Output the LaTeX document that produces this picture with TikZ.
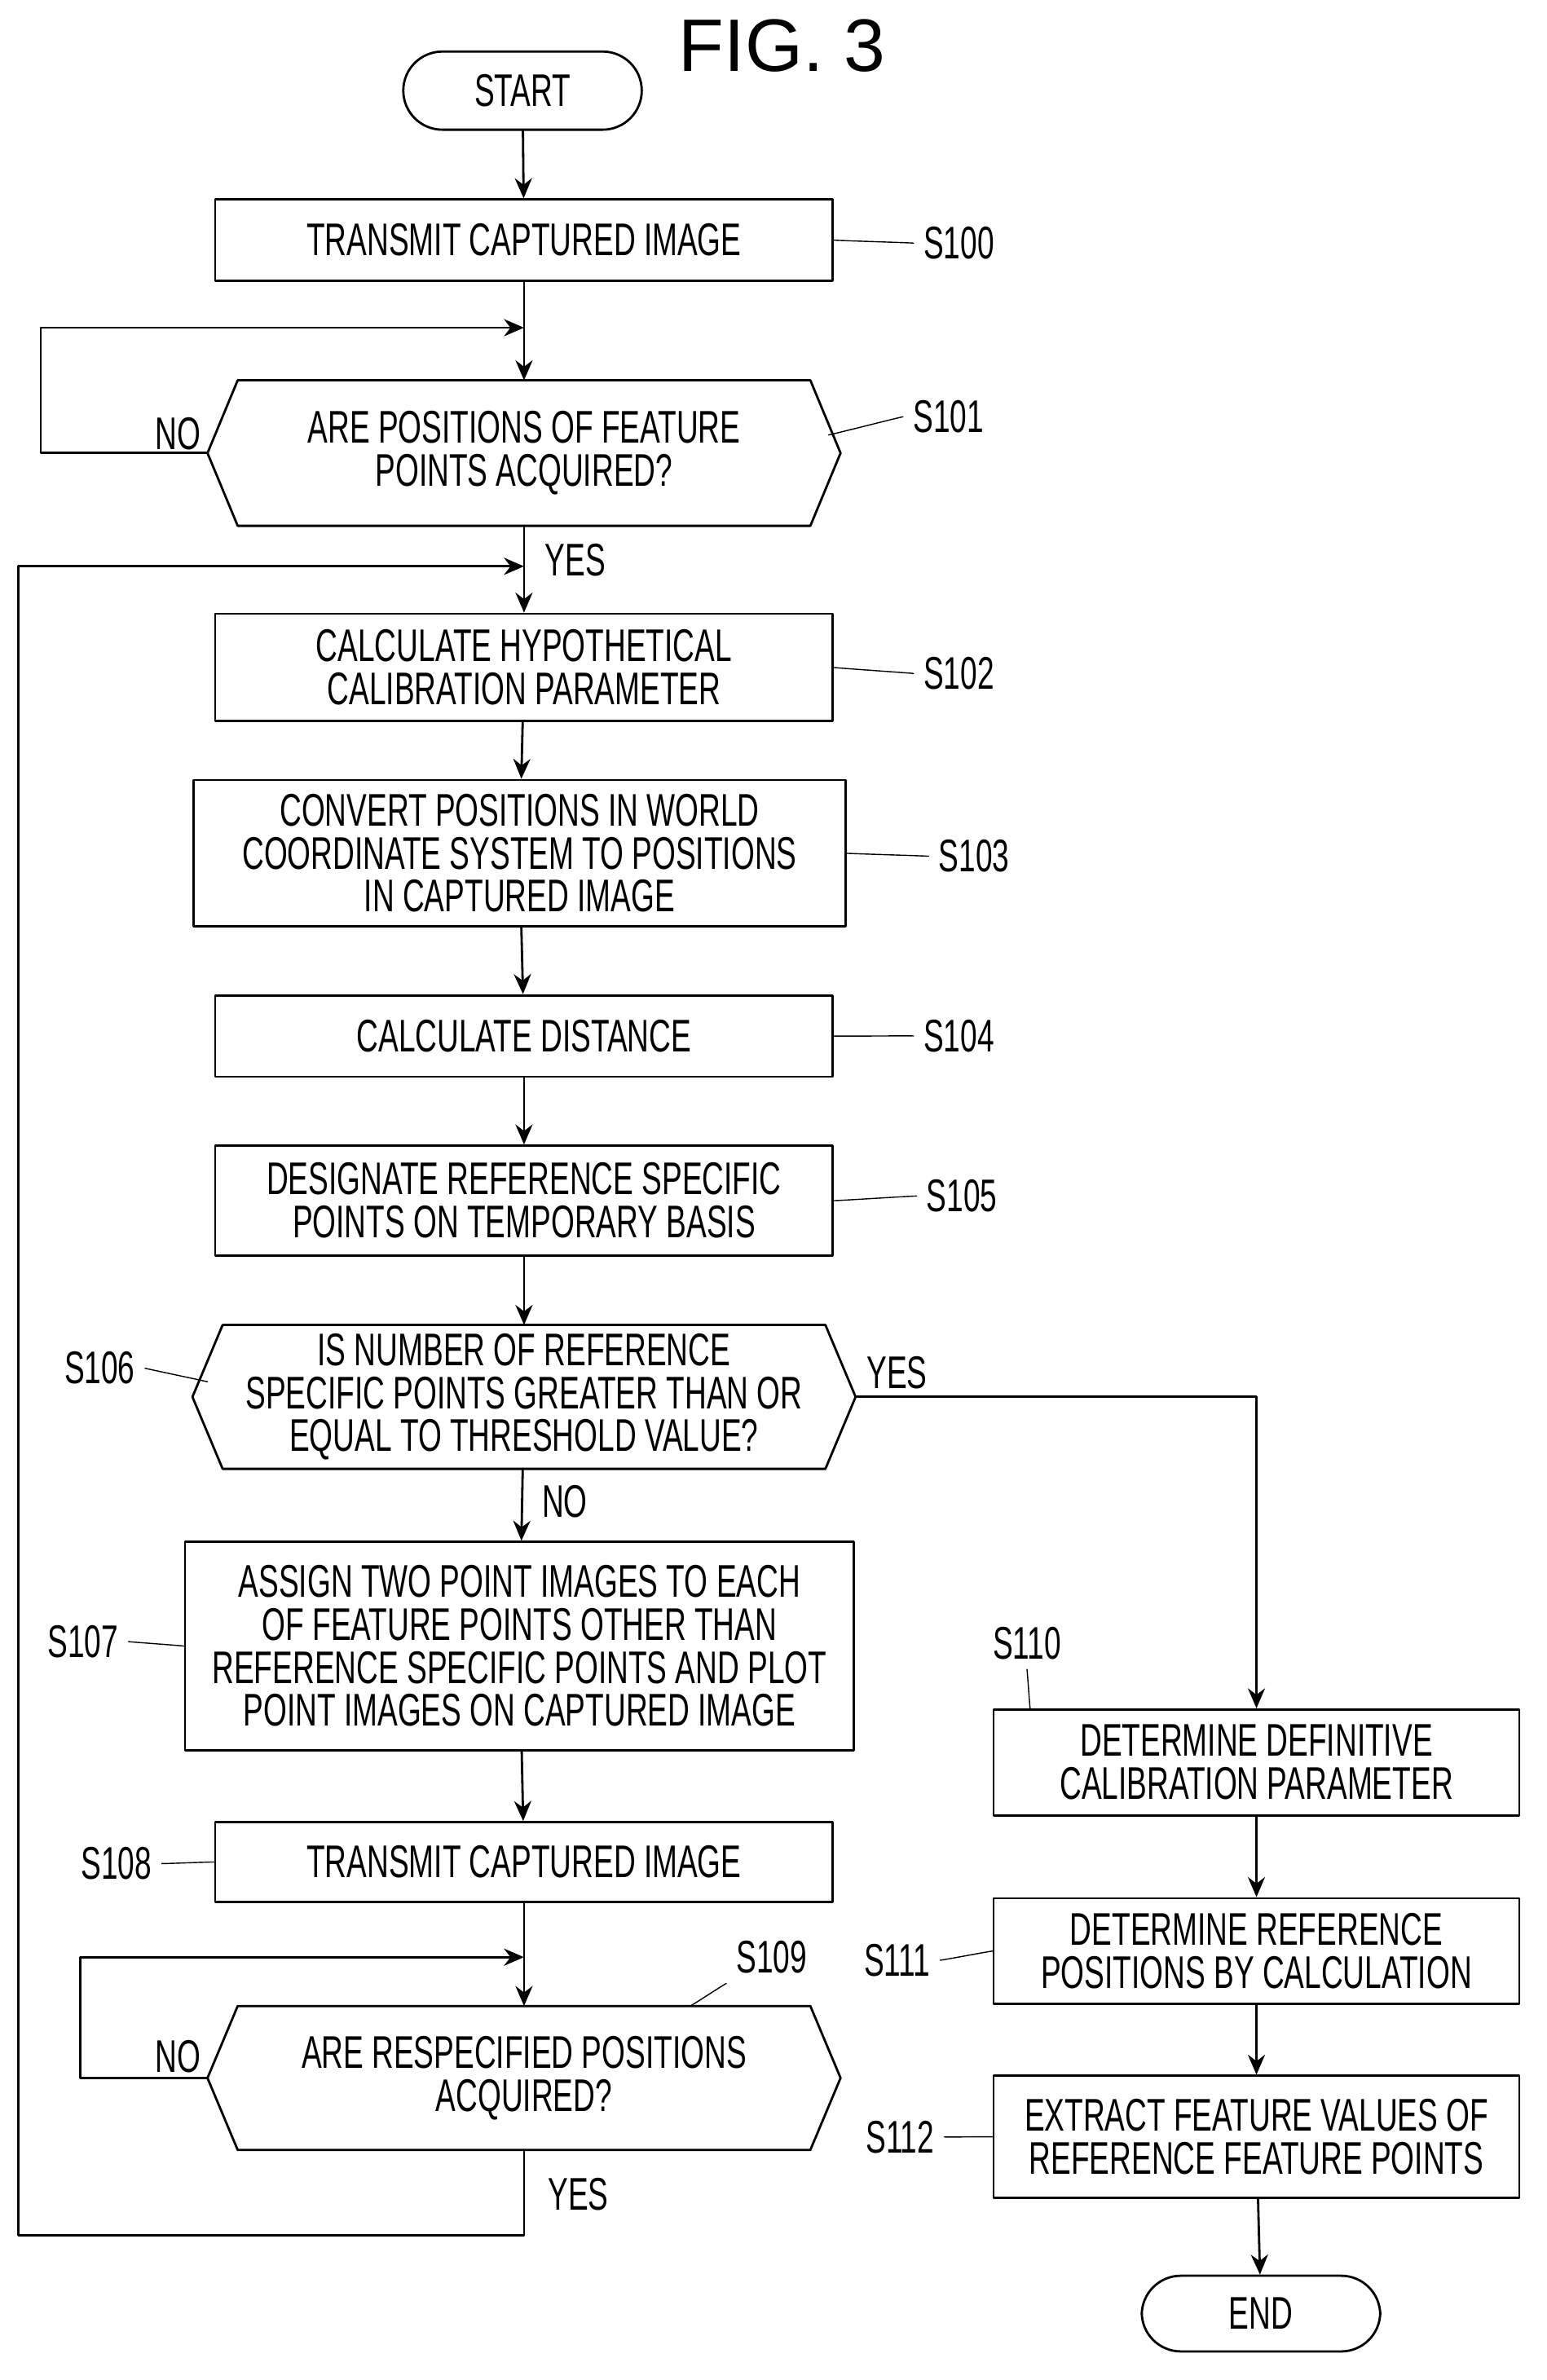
\documentclass[tikz,border=0pt]{standalone}
\usepackage{fontspec}
\setmainfont[FakeStretch=0.66]{Liberation Sans}
\newfontfamily\figfont{Liberation Sans}
\usetikzlibrary{arrows.meta,calc}
\tikzset{
  box/.style={draw, thick, align=center, inner sep=2pt, font=\fontsize{16}{15}\selectfont},
  hexa/.style={box, draw=none},
  term/.style={draw, thick, rounded corners=0.48cm, font=\fontsize{16}{15}\selectfont},
  lbl/.style={font=\fontsize{16}{15}\selectfont},
  flow/.style={thick, -{Stealth[length=7pt,width=6pt]}},
}
% squiggle from a node edge to a label
\newcommand{\squig}[2]{\draw[thin] (#1) .. controls +(0.3,0.25) and +(-0.3,-0.25) .. (#2);}
% hexagon outline round a decision node
\newcommand{\hexout}[1]{\draw[thick] ($(#1.north west)+(20,0)$) -- ($(#1.north east)+(-20,0)$) -- (#1.east)
  -- ($(#1.south east)+(-20,0)$) -- ($(#1.south west)+(20,0)$) -- (#1.west) -- cycle;}
\begin{document}
\begin{tikzpicture}[line cap=round, line join=round, x=0.01855cm, y=-0.01855cm]
\useasboundingbox (0,0) rectangle (1024,1576);

\node[font=\figfont\fontsize{26}{26}\selectfont] at (518,30) {FIG. 3};
\node[term, minimum width=2.93cm, minimum height=0.96cm] (start) at (346,60) {START};
\node[box, minimum width=7.59cm, minimum height=1.0cm] (s100) at (347,159) {TRANSMIT CAPTURED IMAGE};
\node[hexa, minimum width=7.75cm, minimum height=1.76cm] (s101) at (347,300) {ARE POSITIONS OF FEATURE\\POINTS ACQUIRED?};
\node[box, minimum width=7.59cm, minimum height=1.32cm] (s102) at (347,442) {CALCULATE HYPOTHETICAL\\CALIBRATION PARAMETER};
\node[box, minimum width=8.01cm, minimum height=1.80cm] (s103) at (344,565) {CONVERT POSITIONS IN WORLD\\COORDINATE SYSTEM TO POSITIONS\\IN CAPTURED IMAGE};
\node[box, minimum width=7.59cm, minimum height=1.0cm] (s104) at (347,686) {CALCULATE DISTANCE};
\node[box, minimum width=7.59cm, minimum height=1.35cm] (s105) at (347,795) {DESIGNATE REFERENCE SPECIFIC\\POINTS ON TEMPORARY BASIS};
\node[hexa, minimum width=8.12cm, minimum height=1.74cm] (s106) at (347,925) {IS NUMBER OF REFERENCE\\SPECIFIC POINTS GREATER THAN OR\\EQUAL TO THRESHOLD VALUE?};
\node[box, minimum width=8.22cm, minimum height=2.56cm] (s107) at (344,1090) {ASSIGN TWO POINT IMAGES TO EACH\\OF FEATURE POINTS OTHER THAN\\REFERENCE SPECIFIC POINTS AND PLOT\\POINT IMAGES ON CAPTURED IMAGE};
\node[box, minimum width=7.59cm, minimum height=0.98cm] (s108) at (347,1233) {TRANSMIT CAPTURED IMAGE};
\node[hexa, minimum width=7.75cm, minimum height=1.74cm] (s109) at (347,1376) {ARE RESPECIFIED POSITIONS\\ACQUIRED?};
\node[box, minimum width=6.46cm, minimum height=1.30cm] (s110) at (832,1167) {DETERMINE DEFINITIVE\\CALIBRATION PARAMETER};
\node[box, minimum width=6.46cm, minimum height=1.30cm] (s111) at (832,1292) {DETERMINE REFERENCE\\POSITIONS BY CALCULATION};
\node[box, minimum width=6.46cm, minimum height=1.50cm] (s112) at (832,1415) {EXTRACT FEATURE VALUES OF\\REFERENCE FEATURE POINTS};
\node[term, minimum width=2.93cm, minimum height=0.93cm] (end) at (835,1532) {END};
\hexout{s101}
\hexout{s106}
\hexout{s109}

% step labels
\node[lbl] (l100) at (635,161) {S100};
\node[lbl] (l101) at (628,276) {S101};
\node[lbl] (l102) at (635,446) {S102};
\node[lbl] (l103) at (645,567) {S103};
\node[lbl] (l104) at (635,686) {S104};
\node[lbl] (l105) at (637,792) {S105};
\node[lbl] (l106) at (66,906) {S106};
\node[lbl] (l107) at (55,1087) {S107};
\node[lbl] (l108) at (77,1234) {S108};
\node[lbl] (l109) at (511,1296) {S109};
\node[lbl] (l110) at (680,1088) {S110};
\node[lbl] (l111) at (594,1298) {S111};
\node[lbl] (l112) at (596,1415) {S112};
\squig{s100.east}{l100.west}
\squig{$(s101.east)+(-8,-12)$}{l101.west}
\squig{s102.east}{l102.west}
\squig{s103.east}{l103.west}
\squig{s104.east}{l104.west}
\squig{s105.east}{l105.west}
\squig{l106.east}{$(s106.west)+(10,-10)$}
\squig{l107.east}{s107.west}
\squig{l108.east}{s108.west}
\squig{$(s109.north)+(110,0)$}{l109.south west}
\squig{l110.south}{$(s110.north west)+(25,0)$}
\squig{l111.east}{s111.west}
\squig{l112.east}{s112.west}

% connectors
\draw[flow] (start) -- (s100);
\draw[flow] (s100) -- (s101);
\draw[flow] (s101) -- (s102);
\draw[flow] (s102) -- (s103);
\draw[flow] (s103) -- (s104);
\draw[flow] (s104) -- (s105);
\draw[flow] (s105) -- (s106);
\draw[flow] (s106) -- (s107);
\draw[flow] (s107) -- (s108);
\draw[flow] (s108) -- (s109);
\draw[flow] (s110) -- (s111);
\draw[flow] (s111) -- (s112);
\draw[flow] (s112) -- (end);
\draw[flow] (s106.east) -| (s110.north);
\draw[flow] (s101.west) -- (27,300) -- (27,217) -- (347,217);
\draw[flow] (s109.west) -- (53,1376) -- (53,1296) -- (347,1296);
\draw[flow] (s109.south) -- (347,1480) -- (12,1480) -- (12,375) -- (347,375);

\node[lbl] at (118,287) {NO};
\node[lbl] at (381,371) {YES};
\node[lbl] at (594,909) {YES};
\node[lbl] at (374,994) {NO};
\node[lbl] at (118,1362) {NO};
\node[lbl] at (383,1453) {YES};
\end{tikzpicture}
\end{document}
